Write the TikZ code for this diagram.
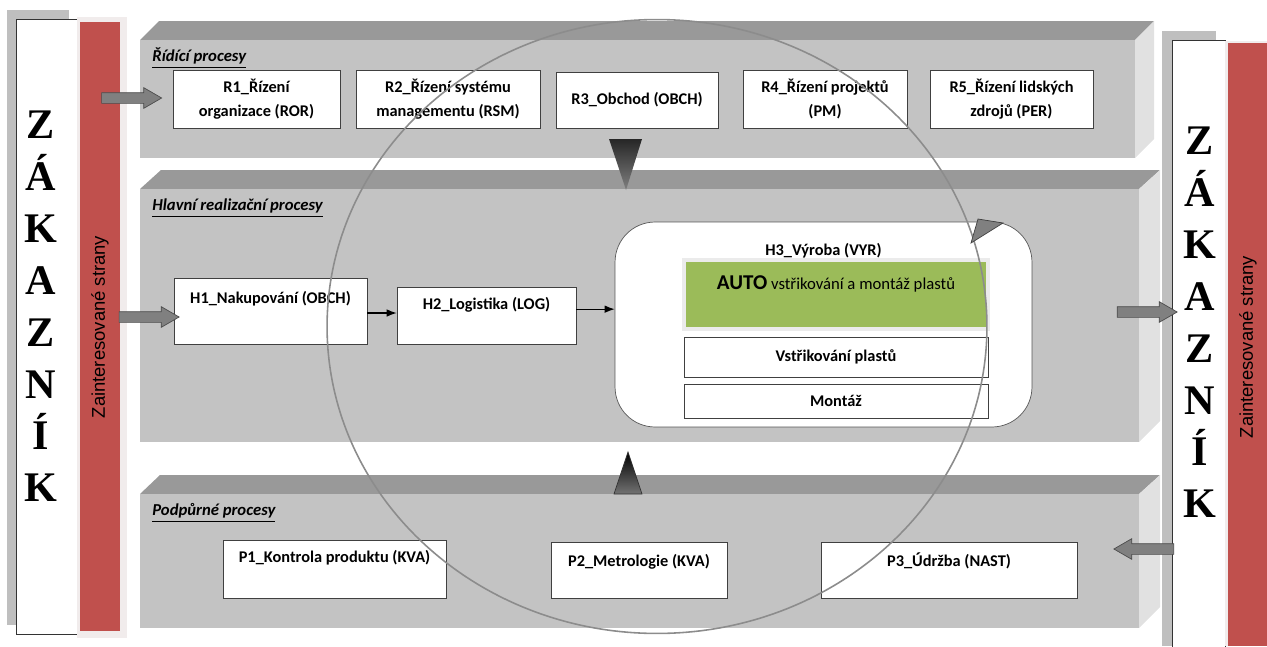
\documentclass[tikz,border=0pt]{standalone}
\usepackage{fontspec}
\setmainfont{Carlito}
\newfontfamily\timesf{Liberation Serif}
\newfontfamily\arialf{Liberation Sans}
\usepackage{tikz}
\usetikzlibrary{arrows.meta,shapes,positioning,calc}
\definecolor{bandfront}{HTML}{C3C3C3}
\definecolor{bandtop}{HTML}{999999}
\definecolor{bandside}{HTML}{E1E1E1}
\definecolor{custred}{HTML}{C0504D}
\definecolor{redrim}{HTML}{F1ECEC}
\definecolor{autogreen}{HTML}{9BBB59}
\definecolor{shadowgray}{HTML}{BFBFBF}
\tikzset{
    box/.style={draw=black!75, fill=white, align=center, inner sep=1pt, font=\bfseries\fontsize{9.3}{14}\selectfont},
    flow/.style={-{Latex[length=2mm, width=1.5mm]}, line width=0.6pt, black},
    blockarrow/.style={single arrow, draw=black!70, fill=black!50, minimum height=1.2cm, minimum width=0.4cm,
        single arrow head extend=0.1cm, single arrow tip angle=60, inner xsep=0pt, inner ysep=0.1cm},
    sect/.style={anchor=west, inner sep=0pt, font=\bfseries\itshape\fontsize{9.5}{11}\selectfont},
    letters/.style={align=center, inner sep=0pt, font=\timesf\bfseries\fontsize{24}{29.5}\selectfont},
    strany/.style={rotate=90, inner sep=0pt, font=\arialf\fontsize{10.5}{12}\selectfont},
    cycleline/.style={draw=black!45, line width=0.9pt}
}
\begin{document}
\begin{tikzpicture}[x=0.02cm, y=-0.02cm]
\useasboundingbox (0,0) rectangle (1267,646);

\fill[shadowgray] (7,10) rectangle (69,625);
\draw[black!80, fill=white] (16,19) rectangle (78,634);
\fill[redrim] (77,17) rectangle (127,638);
\fill[custred] (80,22) rectangle (120,631);
\node[letters] (zakL) at (41,306.5) {Z\\Á\\K\\A\\Z\\N\\Í\\K};
\node[strany] (stranyL) at (100,327) {Zainteresované strany};

\fill[shadowgray] (1162,31) rectangle (1216,646);
\draw[black!80, fill=white] (1172,40) rectangle (1225,648);
\fill[redrim] (1225,41) rectangle (1267,646);
\fill[custred] (1228,43) rectangle (1267,646);
\node[letters] (zakR) at (1200,322.5) {Z\\Á\\K\\A\\Z\\N\\Í\\K};
\node[strany] (stranyR) at (1248,347) {Zainteresované strany};

\fill[bandtop] (140,40) -- (159,21) -- (1154,21) -- (1135,40) -- cycle;
\fill[bandside] (1135,40) -- (1154,21) -- (1154,139) -- (1135,158) -- cycle;
\fill[bandfront] (140,40) rectangle (1135,158);
\fill[bandtop] (140,189) -- (161,170) -- (1160,170) -- (1139,189) -- cycle;
\fill[bandside] (1139,189) -- (1160,170) -- (1160,421) -- (1139,442) -- cycle;
\fill[bandfront] (140,189) rectangle (1139,442);
\fill[bandtop] (140,494) -- (160,475) -- (1160,475) -- (1139,494) -- cycle;
\fill[bandside] (1139,494) -- (1160,475) -- (1160,607) -- (1139,628) -- cycle;
\fill[bandfront] (140,494) rectangle (1139,628);

\node[sect] (ridici) at (152,58) {\underline{Řídící procesy}};
\node[sect] (hlavni) at (152,208) {\underline{Hlavní realizační procesy}};
\node[sect] (podpurne) at (152,513) {\underline{Podpůrné procesy}};

\node[box, minimum width=3.34cm, minimum height=1.16cm] (r1) at (256.5,99) {R1\_Řízení\\organizace (ROR)};
\node[box, minimum width=3.68cm, minimum height=1.16cm] (r2) at (448,99) {R2\_Řízení systému\\managementu (RSM)};
\node[box, minimum width=3.24cm, minimum height=1.12cm] (r3) at (637,100) {R3\_Obchod (OBCH)};
\node[box, minimum width=3.28cm, minimum height=1.16cm] (r4) at (825,99) {R4\_Řízení projektů\\(PM)};
\node[box, minimum width=3.26cm, minimum height=1.16cm] (r5) at (1011.5,99) {R5\_Řízení lidských\\zdrojů (PER)};

\node[box, minimum width=3.86cm, minimum height=1.32cm, text depth=0.56cm] (h1) at (270.5,311) {H1\_Nakupování (OBCH)};
\node[box, minimum width=3.58cm, minimum height=1.14cm, text depth=0.5cm] (h2) at (486.5,315.5) {H2\_Logistika (LOG)};
\node[box, draw=black!65, rounded corners=0.8cm, minimum width=8.34cm, minimum height=4.1cm, text depth=3cm] (h3) at (823.5,324.5) {H3\_Výroba (VYR)};
\node[draw=black!8, line width=2pt, fill=autogreen, minimum width=6.08cm, minimum height=1.38cm, text depth=0.46cm,
    font=\fontsize{9.5}{11}\selectfont] (auto) at (836,294.5) {{\bfseries\fontsize{12}{14}\selectfont AUTO} vstřikování a montáž plastů};
\node[box, minimum width=6.08cm, minimum height=0.8cm] (vstrik) at (836,357) {Vstřikování plastů};
\node[box, minimum width=6.08cm, minimum height=0.68cm] (montaz) at (836,401) {Montáž};

\node[box, minimum width=4.46cm, minimum height=1.16cm, text depth=0.52cm] (p1) at (334.5,569) {P1\_Kontrola produktu (KVA)};
\node[box, minimum width=3.52cm, minimum height=1.12cm, text depth=0.4cm] (p2) at (639,570) {P2\_Metrologie (KVA)};
\node[box, minimum width=5.12cm, minimum height=1.12cm, text depth=0.4cm] (p3) at (949,570) {P3\_Údržba (NAST)};

\coordinate (h1out) at ($(h1.north east)!0.53!(h1.south east)$);
\coordinate (h2out) at ($(h2.north east)!0.39!(h2.south east)$);
\draw[flow] (h1out) -- (h1out -| h2.west);
\draw[flow] (h2out) -- (h2out -| h3.west);

\node[blockarrow] (inTop) at (127,98) {};
\node[blockarrow] (inMid) at (144.5,317) {};
\node[blockarrow] (outMid) at (1142.5,312) {};
\node[blockarrow, shape border rotate=180] (inBot) at (1148.5,549) {};

\draw[cycleline] (657,326.5) ellipse [x radius=6.6cm, y radius=6.14cm];
\shade[top color=black!85, bottom color=black!50] (609,139) -- (642,139) -- (626,190) -- cycle;
\shade[top color=black, bottom color=black!55, draw=black!80] (628,452) -- (642,494) -- (614,494) -- cycle;
\draw[black!75, fill=black!50] (971,243) -- (978,219) -- (1003,223) -- cycle;
\end{tikzpicture}
\end{document}
